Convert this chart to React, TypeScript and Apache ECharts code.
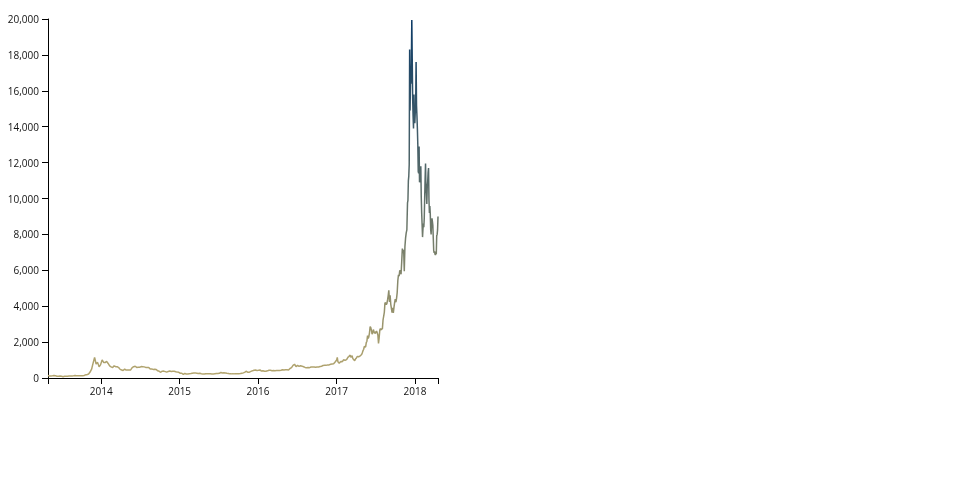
import React, { useEffect, useRef } from "react";
import * as echarts from "echarts";

const DAY = 86400000;

// Weekly closes (USD), one array per year with its first date
const start2013 = "2013-04-28";
const weekly2013 = [
  135, 115, 117, 122, 133, 122, 100, 100, 107, 97, 70, 98, 91, 98, 105, 106, 114, 124,
  138, 128, 127, 125, 126, 124, 140, 175, 186, 220, 330, 490, 830, 1150, 780, 870, 620, 745,
];
const start2014 = "2014-01-05";
const weekly2014 = [
  1010, 870, 860, 930, 810, 680, 620, 580, 680, 630, 630, 580, 480, 450, 420, 500, 440,
  440, 440, 450, 575, 630, 655, 590, 600, 600, 635, 630, 620, 590, 585, 590, 495, 505,
  480, 485, 475, 400, 375, 320, 380, 385, 355, 325, 365, 385, 365, 380, 375, 350, 330, 315,
];
const start2015 = "2015-01-04";
const weekly2015 = [
  265, 265, 200, 255, 225, 225, 235, 245, 260, 275, 285, 265, 245, 260, 235, 225, 220,
  240, 240, 235, 240, 225, 225, 235, 245, 250, 260, 310, 275, 290, 280, 265, 255, 230,
  230, 240, 230, 230, 235, 240, 245, 265, 285, 325, 375, 320, 325, 370, 400, 435, 440, 420,
];
const start2016 = "2016-01-03";
const weekly2016 = [
  430, 450, 385, 405, 375, 375, 400, 435, 430, 405, 415, 410, 415, 420, 420, 430, 460,
  445, 460, 455, 445, 530, 575, 700, 765, 630, 705, 650, 680, 660, 625, 590, 570, 580,
  575, 610, 610, 610, 600, 610, 617, 640, 655, 700, 710, 705, 730, 730, 765, 780, 790, 890,
];
// Every third day through 2017
const start2017 = "2017-01-01";
const every3Days2017 = [
  1000, 1150, 900, 905, 820, 830, 900, 925, 895, 920, 970,
  1015, 1025, 980, 1000, 1010, 1055, 1120, 1170, 1190,
  1250, 1270, 1150, 1190, 1240, 1090, 1040, 1040, 960, 1040,
  1080, 1140, 1190, 1210, 1170, 1180, 1220, 1230, 1280, 1320,
  1420, 1530, 1600, 1760, 1770, 1730, 1970, 2050, 2360, 2200, 2300,
  2520, 2860, 2810, 2660, 2440, 2500, 2700, 2580, 2590, 2480,
  2570, 2610, 2520, 2400, 1930, 2240, 2670, 2750, 2670, 2760,
  2720, 3220, 3440, 3650, 4170, 4200, 4090, 4150, 4350, 4580,
  4890, 4240, 4600, 4120, 3880, 3640, 3910, 3630, 3930, 4200,
  4400, 4220, 4440, 4760, 5430, 5750, 5680, 6000, 5890, 5780, 6470,
  7210, 6960, 7140, 5950, 7320, 7790, 8080, 8250, 9750,
];
// Every second day from the end of November 2017
const startPeak = "2017-11-29";
const every2DaysPeak = [
  9890, 10980, 11250, 11900, 18300, 14900, 16700, 16400, 17600, 19950, 17800, 15600,
  14600, 13900, 15800, 14600, 14200, 14750, 15200, 17600, 15200, 14600, 13900, 13000,
  11500, 11400, 12900, 10900, 11300, 11100, 11800, 10100, 9200, 9170, 7850, 8300,
  8600, 8400, 8900, 10030, 11100, 11950, 10400, 10300, 9700, 10700, 10950, 11450,
  11700, 9900, 9200, 9580, 9150, 8260, 8000, 8600, 8900, 8720, 8500, 7800, 7100,
  6970, 7060, 6900, 6850, 7030, 6900, 7930, 8000, 8250, 9000,
];

const yearTicks = [2014, 2015, 2016, 2017, 2018];

function expand(start: string, stepDays: number, values: number[]) {
  const t0 = Date.parse(start + "T00:00:00Z");
  return values.map((v, i) => [t0 + i * stepDays * DAY, v]);
}

export default function App() {
  const ref = useRef<HTMLDivElement>(null);
  useEffect(() => {
    if (!ref.current) return;
    const chart = echarts.init(ref.current, undefined, { renderer: "svg" });
    const data = [
      ...expand(start2013, 7, weekly2013),
      ...expand(start2014, 7, weekly2014),
      ...expand(start2015, 7, weekly2015),
      ...expand(start2016, 7, weekly2016),
      ...expand(start2017, 3, every3Days2017),
      ...expand(startPeak, 2, every2DaysPeak),
    ];
    const tMin = data[0][0];
    const tMax = data[data.length - 1][0];
    const yearTs = yearTicks.map((y) => Date.UTC(y, 0, 1));
    const font = { fontFamily: "Open Sans", fontSize: 10, color: "#111" };
    chart.setOption({
      animation: false,
      grid: { left: 48, top: 19, right: 522, bottom: 122, containLabel: false },
      visualMap: {
        type: "continuous",
        show: false,
        dimension: 1,
        min: 0,
        max: 20000,
        inRange: { color: ["#b5a66e", "#0b3a66"] },
      },
      xAxis: {
        type: "value",
        min: tMin,
        max: tMax,
        scale: true,
        axisLine: { show: true, lineStyle: { color: "#000", width: 1 } },
        axisTick: {
          show: true,
          length: 6,
          lineStyle: { color: "#000" },
          customValues: [tMin, ...yearTs, tMax],
        },
        axisLabel: {
          ...font,
          margin: 8,
          customValues: yearTs,
          formatter: (v: number) => String(new Date(v).getUTCFullYear()),
        },
        splitLine: { show: false },
      },
      yAxis: {
        type: "value",
        min: 0,
        max: 20000,
        interval: 2000,
        axisLine: { show: true, lineStyle: { color: "#000", width: 1 } },
        axisTick: { show: true, length: 6, lineStyle: { color: "#000" } },
        axisLabel: {
          ...font,
          margin: 9,
          formatter: (v: number) => v.toLocaleString("en-US"),
        },
        splitLine: { show: false },
      },
      series: [
        {
          type: "line",
          data,
          showSymbol: false,
          symbol: "none",
          lineStyle: { width: 1.5 },
        },
      ],
    });
    return () => chart.dispose();
  }, []);
  return (
    <div
      ref={ref}
      style={{ position: "fixed", left: 0, top: 0, width: 960, height: 500 }}
    />
  );
}
